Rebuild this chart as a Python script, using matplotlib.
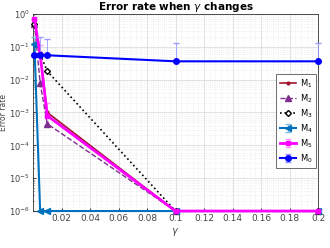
import numpy as np
import matplotlib
matplotlib.use('Agg')
import matplotlib.pyplot as plt

# gamma values
gamma = [0.001, 0.005, 0.01, 0.1, 0.2]

# error rates for each method
m1 = [0.6, 0.06, 1.0e-3, 1e-6, 1e-6]
m2 = [0.5, 0.008, 4.5e-4, 1e-6, 1e-6]
m3 = [0.5, 0.06, 0.018, 1e-6, 1e-6]
m4 = [0.12, 1e-6, 1e-6, 1e-6, 1e-6]
m5 = [0.7, 0.06, 8e-4, 1e-6, 1e-6]
m0 = [0.056, 0.055, 0.055, 0.036, 0.036]

# upper error bars
m0_err = [0.0, 0.14, 0.12, 0.095, 0.095]
m4_err = [0.08, 0.0, 0.0, 0.0, 0.0]
m5_err = [0.0, 0.05, 1.2e-3, 0.0, 0.0]

plt.rcParams['mathtext.fontset'] = 'dejavusans'

fig = plt.figure(figsize=(3.3, 2.48), dpi=100)
ax = fig.add_axes([0.1, 0.149, 0.864, 0.795])

ax.plot(gamma, m1, color='#A2142F', marker='.', ms=4, lw=1.2, label='M$_1$', zorder=3, clip_on=False)
ax.plot(gamma, m2, color='#7E2F8E', ls='--', marker='^', ms=4, lw=1.0, label='M$_2$', zorder=3, clip_on=False)
ax.plot(gamma, m3, color='black', ls=':', marker='D', ms=3, mfc='white', lw=1.2, label='M$_3$', zorder=3, clip_on=False)
ax.errorbar(gamma, m4, yerr=[np.zeros(5), m4_err], color='#0072BD', marker='<', ms=4, lw=1.5,
            elinewidth=0.6, capsize=2, ecolor='#7fb8de', label='M$_4$', zorder=3, clip_on=False)
ax.errorbar(gamma, m5, yerr=[np.zeros(5), m5_err], color='#FF00FF', marker='s', ms=3.5, lw=2,
            elinewidth=0.6, capsize=2, ecolor='#ff99ff', label='M$_5$', zorder=4, clip_on=False)
ax.errorbar(gamma, m0, yerr=[np.zeros(5), m0_err], color='#0000FF', marker='o', ms=4, lw=1.5,
            elinewidth=0.6, capsize=2, ecolor='#9999ff', label='M$_0$', zorder=5, clip_on=False)

ax.set_yscale('log')
ax.set_xlim(0, 0.2)
ax.set_ylim(1e-6, 1)
ax.set_xticks([0.02, 0.04, 0.06, 0.08, 0.1, 0.12, 0.14, 0.16, 0.18, 0.2])
ax.set_xticklabels(['0.02', '0.04', '0.06', '0.08', '0.1', '0.12', '0.14', '0.16', '0.18', '0.2'])
ax.set_yticks([1e-6, 1e-5, 1e-4, 1e-3, 1e-2, 1e-1, 1])
ax.set_yticklabels(['$10^{-6}$', '$10^{-5}$', '$10^{-4}$', '$10^{-3}$', '$10^{-2}$', '$10^{-1}$', '$10^{0}$'])
ax.xaxis.set_minor_locator(matplotlib.ticker.MultipleLocator(0.004))
ax.grid(True, which='major', color='#dddddd', lw=0.6)
ax.grid(True, which='minor', color='#e6e6e6', lw=0.5, ls=':')
ax.set_axisbelow(True)
ax.tick_params(which='both', direction='in', labelsize=6.5, colors='#444444', length=2, pad=2)
ax.tick_params(axis='y', labelsize=6)
ax.tick_params(which='minor', length=1)
for s in ax.spines.values():
    s.set_color('#333333')
    s.set_linewidth(0.6)

ax.set_title('Error rate when $\\gamma$ changes', fontsize=7.5, fontweight='bold', pad=3)
ax.set_xlabel('$\\gamma$', fontsize=7, color='#444444', labelpad=2)
ax.set_ylabel('Error rate', fontsize=5.5, color='#444444', labelpad=1)

leg = ax.legend(loc='center right', fontsize=6, handlelength=2.0, handletextpad=0.4,
                borderpad=0.4, labelspacing=0.3, fancybox=False, edgecolor='#555555',
                framealpha=1, bbox_to_anchor=(1.0, 0.457), borderaxespad=0.3)
leg.get_frame().set_linewidth(0.6)

fig.savefig('out.png', dpi=100)
